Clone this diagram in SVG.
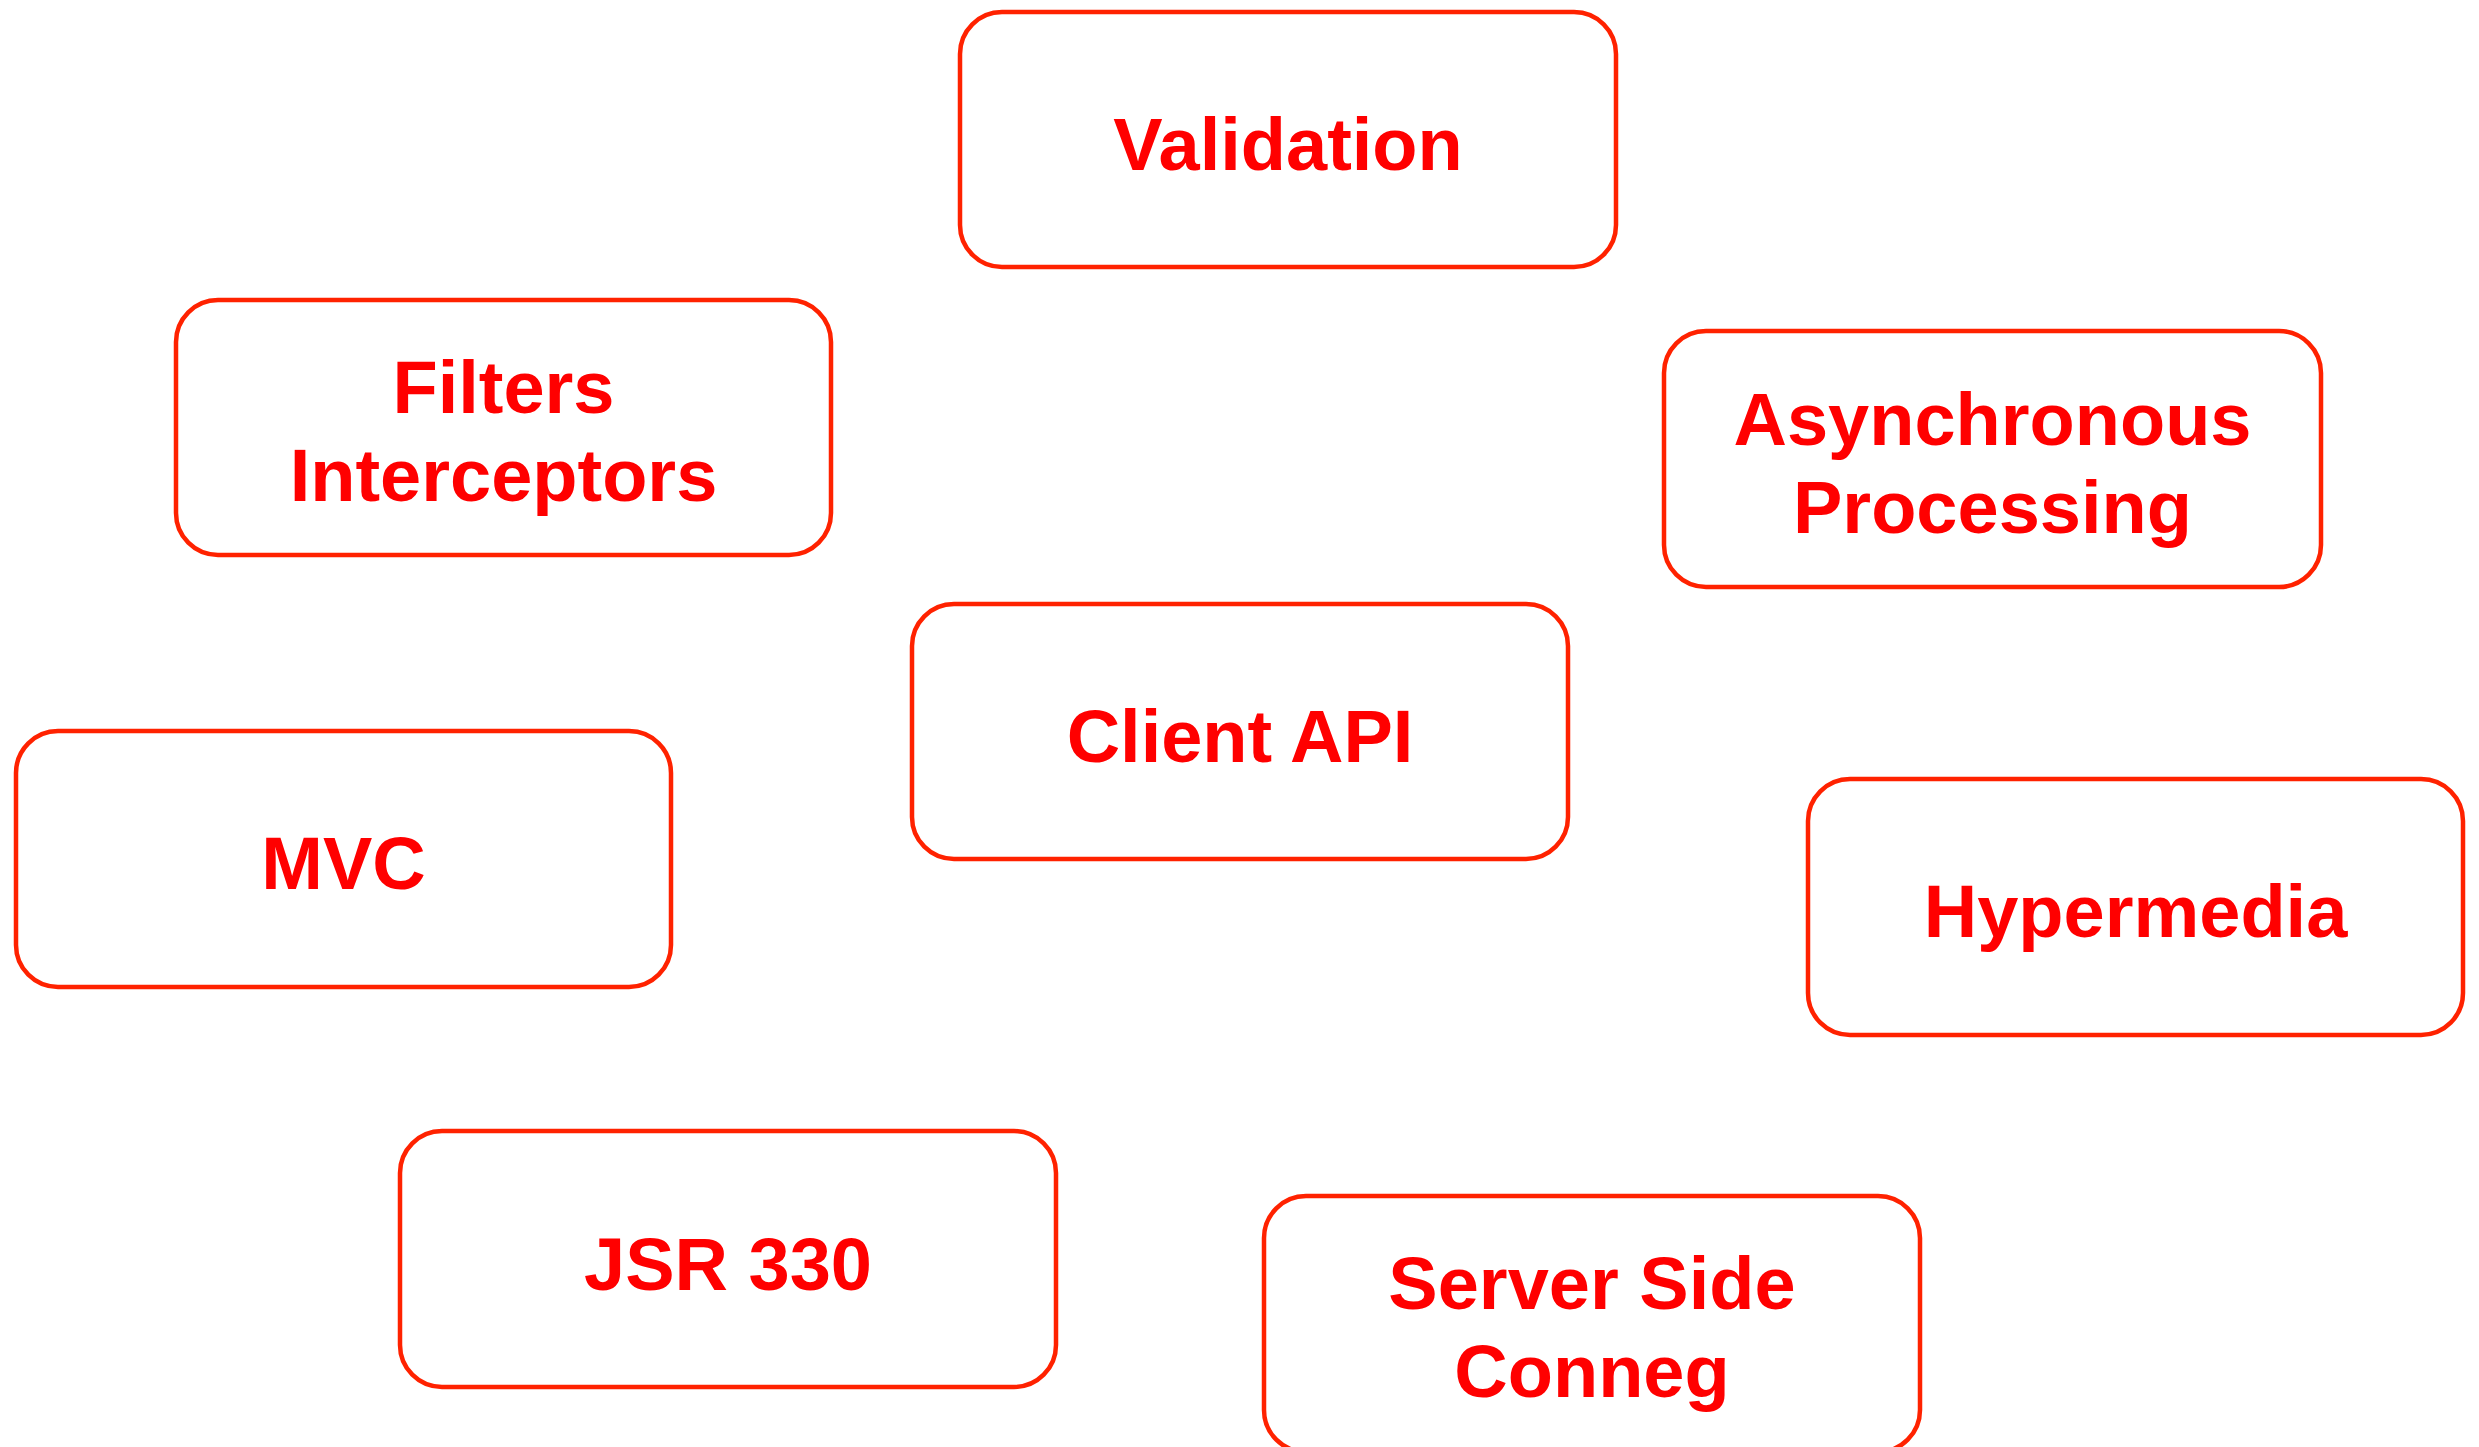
<svg xmlns="http://www.w3.org/2000/svg" width="2479" height="1447" viewBox="0 0 2479 1447">
  <style>
    .box { fill: #FFFFFF; stroke: #FF2200; stroke-width: 4.5; }
    .label { fill: #FF0000; font-family: "Liberation Sans", Arial, sans-serif; font-weight: bold; font-size: 74px; text-anchor: middle; }
  </style>
  <rect width="2479" height="1447" fill="#FFFFFF"/>

  <g id="validation">
    <rect class="box" x="960" y="12" width="656" height="255" rx="42" ry="42"/>
    <text class="label" x="1288" y="170">Validation</text>
  </g>

  <g id="filters-interceptors">
    <rect class="box" x="176" y="300" width="655" height="255" rx="42" ry="42"/>
    <text class="label" x="503.5" y="413">Filters</text>
    <text class="label" x="503.5" y="501">Interceptors</text>
  </g>

  <g id="asynchronous-processing">
    <rect class="box" x="1664" y="331" width="657" height="256" rx="42" ry="42"/>
    <text class="label" x="1992.5" y="445">Asynchronous</text>
    <text class="label" x="1992.5" y="533">Processing</text>
  </g>

  <g id="client-api">
    <rect class="box" x="912" y="604" width="656" height="255" rx="42" ry="42"/>
    <text class="label" x="1240" y="762">Client API</text>
  </g>

  <g id="mvc">
    <rect class="box" x="16" y="731" width="655" height="256" rx="42" ry="42"/>
    <text class="label" x="343.5" y="889">MVC</text>
  </g>

  <g id="hypermedia">
    <rect class="box" x="1808" y="779" width="655" height="256" rx="42" ry="42"/>
    <text class="label" x="2135.5" y="937">Hypermedia</text>
  </g>

  <g id="jsr-330">
    <rect class="box" x="400" y="1131" width="656" height="256" rx="42" ry="42"/>
    <text class="label" x="728" y="1290">JSR 330</text>
  </g>

  <g id="server-side-conneg">
    <rect class="box" x="1264" y="1196" width="656" height="256" rx="42" ry="42"/>
    <text class="label" x="1592" y="1309">Server Side</text>
    <text class="label" x="1592" y="1397">Conneg</text>
  </g>
</svg>
